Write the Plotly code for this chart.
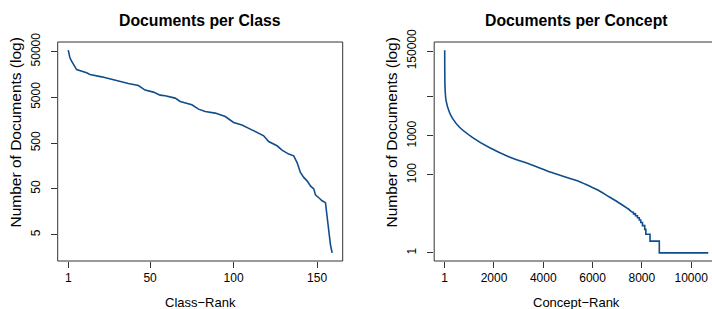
import plotly.graph_objects as go

# ---- data ----
class_rank = [1, 2, 3, 5, 6, 12, 14, 21, 27, 37, 43, 47, 52, 56, 59, 65, 68, 75, 79, 83,
              89, 95, 100, 105, 110, 113, 118, 121, 126, 129, 133, 136, 138, 140, 142, 144,
              146, 148, 149, 151, 153, 155, 156, 157, 158, 159]
class_docs = [53700, 36400, 30900, 23200, 20200, 17100, 15700, 14000, 12200, 10000, 9050,
              7180, 6500, 5580, 5390, 4800, 4050, 3430, 2760, 2450, 2260, 1900, 1410, 1240,
              1010, 883, 722, 542, 437, 352, 288, 264, 188, 114, 89, 75, 58, 50, 37, 32,
              27.5, 25, 12, 5.5, 3, 2]

concept_rank = [1, 3, 6, 13, 54, 188, 326, 593, 1137, 1810, 2622, 3461, 3676, 4273, 5084,
                5500, 5896, 6250, 6573, 7113, 7519, 7600]
concept_docs = [158000, 60000, 35000, 18000, 8200, 4130, 2790, 1700, 910, 505, 290, 188,
                167, 119, 81, 66, 51, 40, 30, 18.5, 12.4, 11]
# integer-valued tail (drawn as steps)
tail_rank = [7600, 7660, 7740, 7820, 7895, 7955, 8025, 8115, 8160, 8330, 8707, 10694]
tail_docs = [11, 10, 9, 8, 7, 6, 5, 4, 3, 2, 1, 1]

class_xticks = [1, 50, 100, 150]
class_yticks = [5, 50, 500, 5000, 50000]
concept_xticks = [1, 2000, 4000, 6000, 8000, 10000]
concept_yticks = [1, 100, 1000, 10000, 150000]
concept_yticktext = ["1", "100", "1000", "", "150000"]

LINE = "#104E8B"
FONT = "Liberation Sans, Arial, Helvetica, sans-serif"

W, H = 712, 309
LX0, LX1 = 57.7 / W, 342.7 / W
RX0, RX1 = 434.2 / W, 1.0
Y0, Y1 = (H - 261) / H, (H - 42) / H
YLAB_Y = (H - 132.5) / H

fig = go.Figure()
fig.add_trace(go.Scatter(x=class_rank, y=class_docs, mode="lines",
                         line=dict(color=LINE, width=1.6), xaxis="x", yaxis="y",
                         showlegend=False))
fig.add_trace(go.Scatter(x=concept_rank, y=concept_docs, mode="lines",
                         line=dict(color=LINE, width=1.6, shape="spline", smoothing=0.6),
                         xaxis="x2", yaxis="y2", showlegend=False))
fig.add_trace(go.Scatter(x=tail_rank, y=tail_docs, mode="lines",
                         line=dict(color=LINE, width=1.6, shape="hv"), xaxis="x2",
                         yaxis="y2", showlegend=False))

axis_common = dict(showgrid=False, zeroline=False, showline=False, ticks="outside",
                   ticklen=6, tickcolor="#333", tickwidth=1, automargin=False,
                   tickfont=dict(family=FONT, size=12, color="black"))

fig.update_layout(
    template="none",
    width=W, height=H, margin=dict(l=0, r=0, t=0, b=0, pad=0),
    paper_bgcolor="white", plot_bgcolor="white",
    xaxis=dict(domain=[LX0, LX1], range=[-5.32, 165.32], tickvals=class_xticks,
               ticktext=[str(v) for v in class_xticks],
               anchor="y", ticklabelstandoff=0, **axis_common),
    yaxis=dict(domain=[Y0, Y1], type="log", range=[0.124, 4.907], tickvals=class_yticks,
               ticktext=[str(v) for v in class_yticks], tickangle=-90, anchor="x",
               ticklabelstandoff=6, **axis_common),
    xaxis2=dict(domain=[RX0, RX1], range=[-425, 10845], tickvals=concept_xticks,
                ticktext=[str(v) for v in concept_xticks],
                anchor="y2", ticklabelstandoff=0, **axis_common),
    yaxis2=dict(domain=[Y0, Y1], type="log", range=[-0.208, 5.41], tickvals=concept_yticks,
                ticktext=concept_yticktext, tickangle=-90, anchor="x2",
                ticklabelstandoff=6, **axis_common),
    shapes=[
        dict(type="rect", xref="paper", yref="paper", x0=LX0, x1=LX1, y0=Y0, y1=Y1,
             line=dict(color="#333", width=1)),
        dict(type="rect", xref="paper", yref="paper", x0=RX0, x1=1.02, y0=Y0, y1=Y1,
             line=dict(color="#333", width=1)),
    ],
    annotations=[
        dict(text="<b>Documents per Class</b>", x=200 / W, y=(H - 20) / H, xref="paper",
             yref="paper", showarrow=False, xanchor="center", yanchor="middle",
             font=dict(family=FONT, size=15.8, color="black")),
        dict(text="<b>Documents per Concept</b>", x=576.5 / W, y=(H - 20) / H,
             xref="paper", yref="paper", showarrow=False, xanchor="center",
             yanchor="middle", font=dict(family=FONT, size=15.8, color="black")),
        dict(text="Class\u2212Rank", x=200 / W, y=(H - 302.3) / H, xref="paper",
             yref="paper", showarrow=False, xanchor="center", yanchor="middle",
             font=dict(family=FONT, size=13, color="black")),
        dict(text="Concept\u2212Rank", x=576.5 / W, y=(H - 302.3) / H, xref="paper",
             yref="paper", showarrow=False, xanchor="center", yanchor="middle",
             font=dict(family=FONT, size=13, color="black")),
        dict(text="Number of Documents (log)", x=15 / W, y=YLAB_Y, xref="paper",
             yref="paper", showarrow=False, xanchor="center", yanchor="middle",
             textangle=-90, font=dict(family=FONT, size=15.5, color="black")),
        dict(text="Number of Documents (log)", x=391 / W, y=YLAB_Y, xref="paper",
             yref="paper", showarrow=False, xanchor="center", yanchor="middle",
             textangle=-90, font=dict(family=FONT, size=15.5, color="black")),
    ],
)

fig.write_html("out.html", config={"displayModeBar": False},
               post_script="document.body.style.margin='0px';"
                           "document.body.style.padding='0px';")
